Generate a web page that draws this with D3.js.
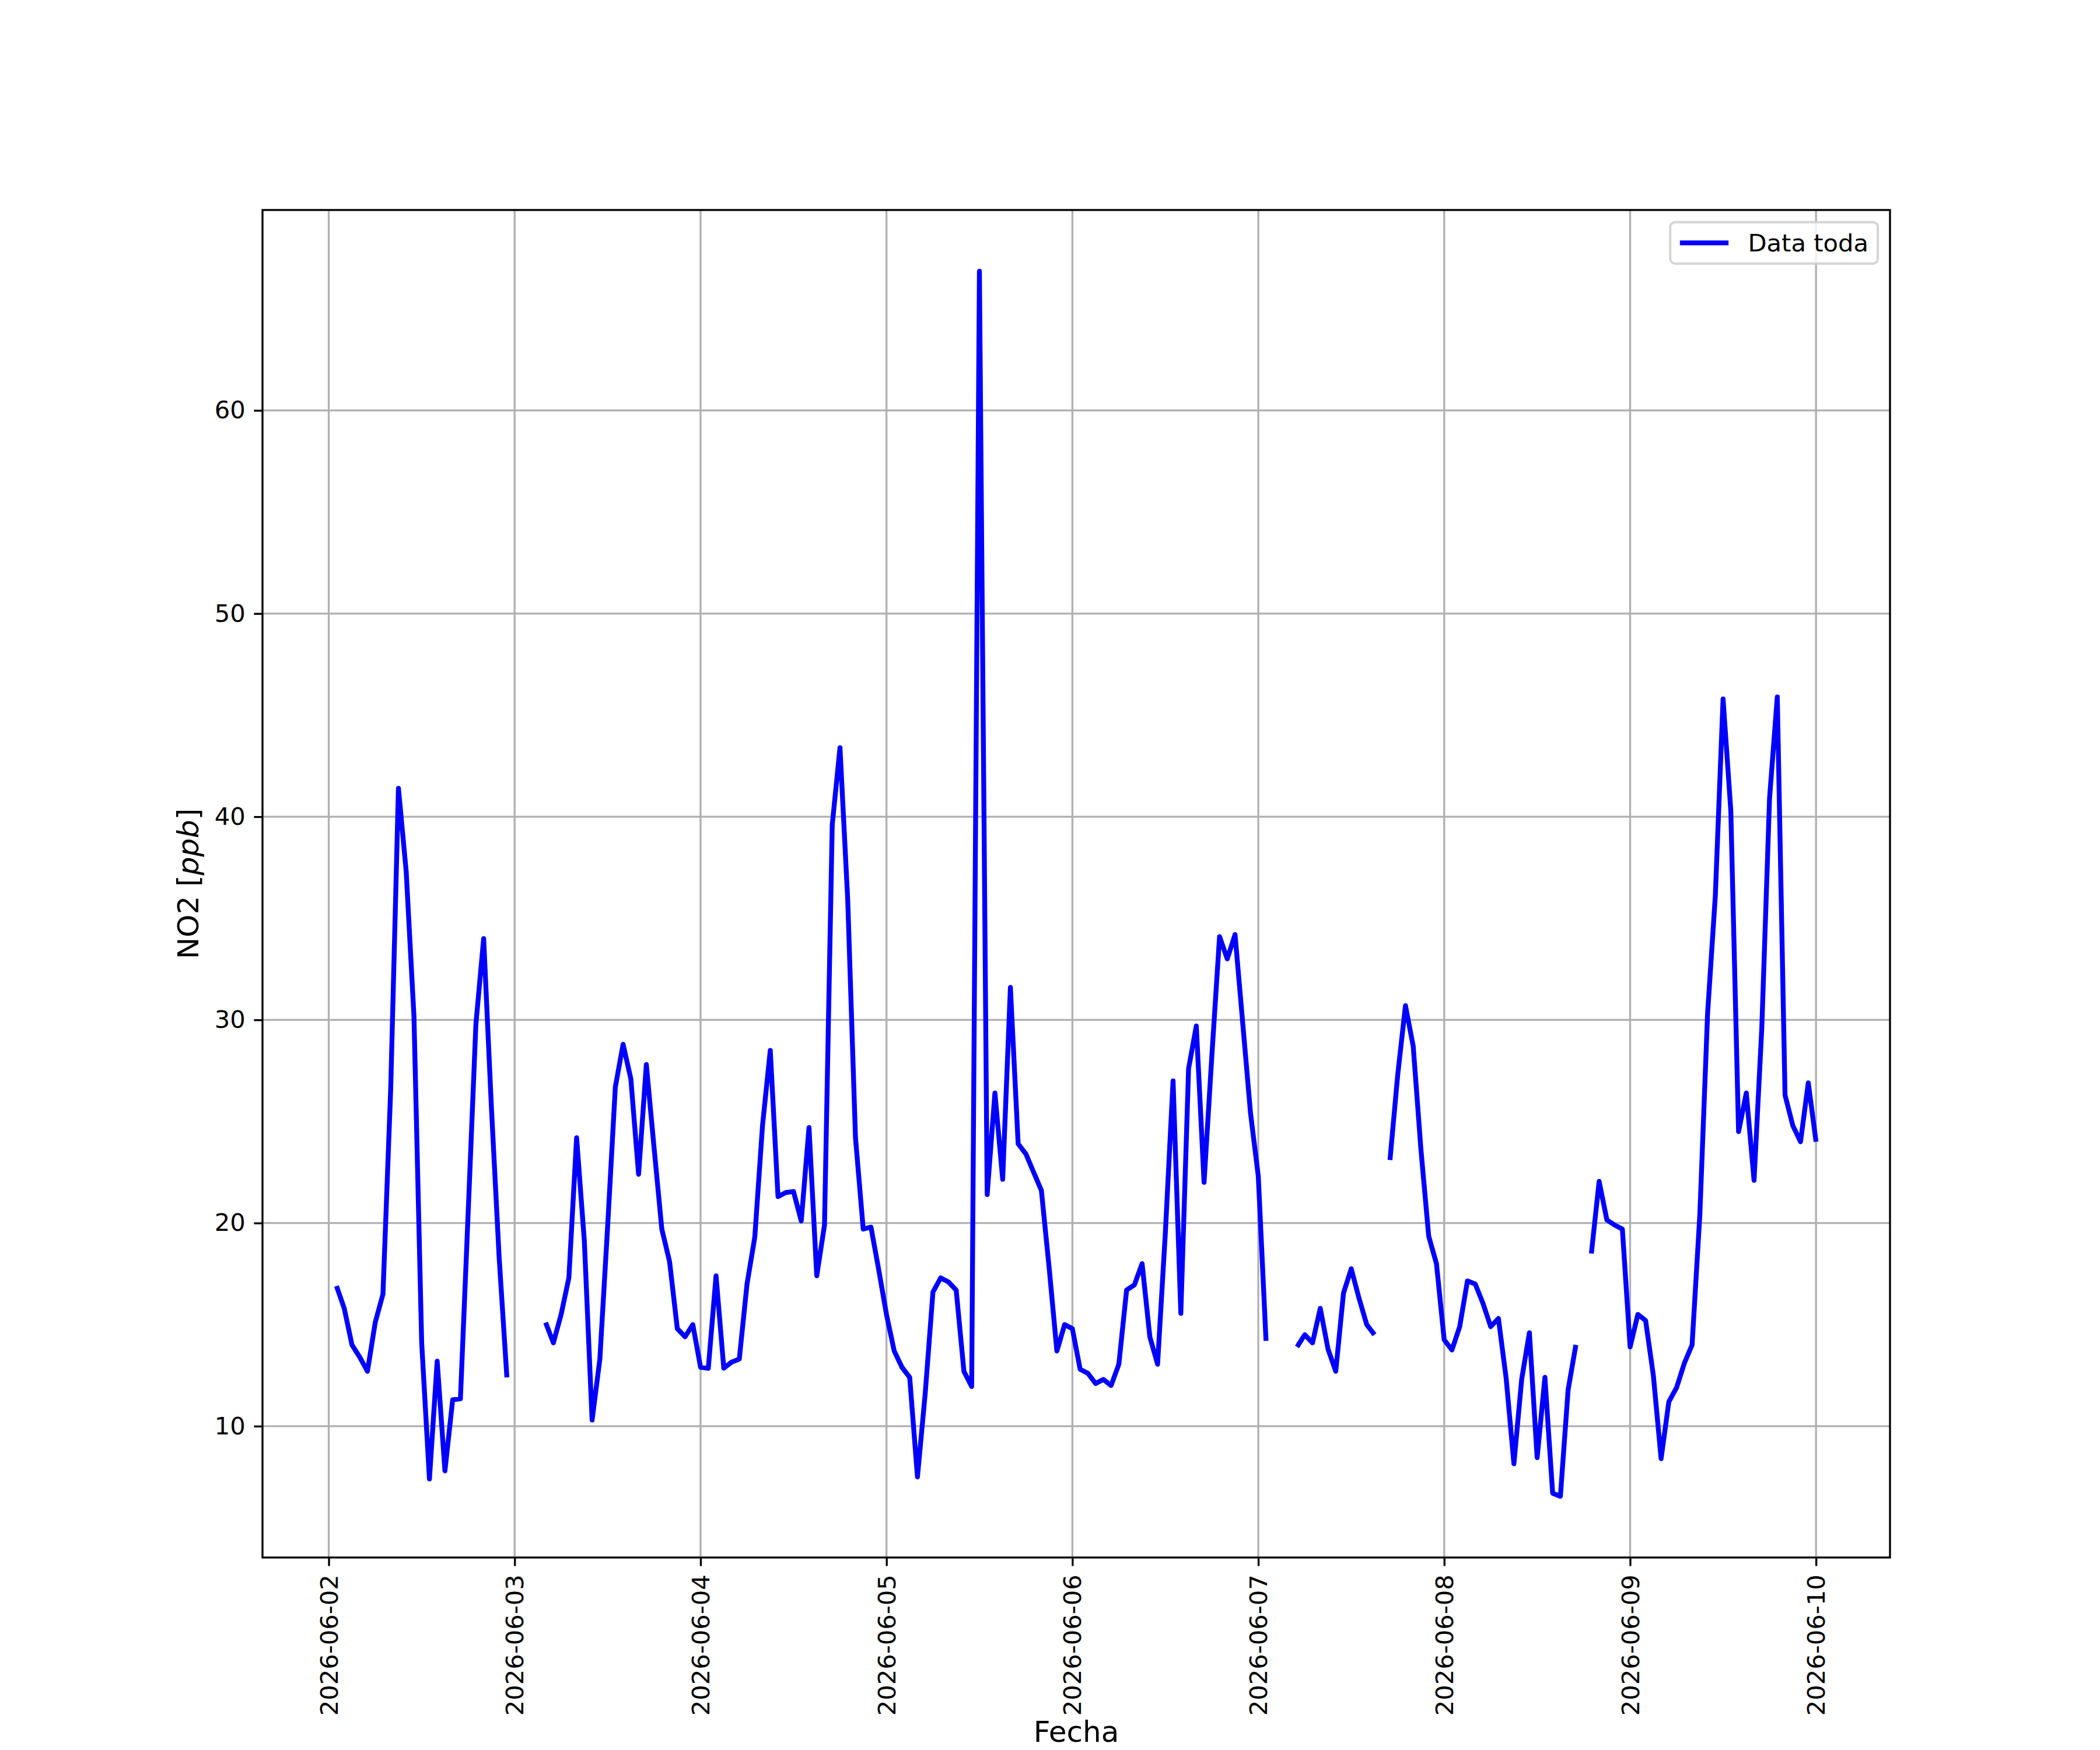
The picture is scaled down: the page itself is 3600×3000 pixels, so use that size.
<!DOCTYPE html>
<html>
<head>
<meta charset="utf-8">
<script src="https://cdn.jsdelivr.net/npm/d3@7"></script>
<style>
  body { margin: 0; background: white; }
  text { font-family: "DejaVu Sans", sans-serif; }
</style>
</head>
<body>
<div class="chart"></div>
<script>
// hourly NO2 values per day, index = hour of day (00..23), null = no data
const day02 = [null, 16.9, 15.8, 14.0, 13.4, 12.7, 15.1, 16.5, 26.6, 41.4, 37.3, 30.2, 14.1, 7.4, 13.2, 7.8, 11.3, 11.35, 20.5, 29.8, 34.0, 25.7, 18.3, 12.4];
const day03 = [null, null, null, null, 15.1, 14.1, 15.5, 17.3, 24.2, 19.1, 10.3, 13.3, 19.8, 26.7, 28.8, 27.1, 22.4, 27.8, 23.7, 19.7, 18.1, 14.8, 14.4, 15.0];
const day04 = [12.9, 12.85, 17.4, 12.85, 13.15, 13.3, 17.0, 19.3, 24.8, 28.5, 21.3, 21.5, 21.55, 20.1, 24.7, 17.4, 19.9, 39.6, 43.4, 35.9, 24.2, 19.7, 19.8, 17.7];
const day05 = [15.5, 13.7, 12.9, 12.4, 7.5, 11.6, 16.6, 17.3, 17.1, 16.7, 12.7, 11.95, 66.85, 21.4, 26.4, 22.15, 31.6, 23.9, 23.4, 22.5, 21.6, 17.8, 13.7, 15.0];
const day06 = [14.8, 12.8, 12.6, 12.1, 12.3, 12.0, 13.05, 16.7, 16.95, 18.0, 14.4, 13.05, 19.5, 27.0, 15.55, 27.6, 29.7, 22.0, 28.2, 34.1, 33.0, 34.2, 29.8, 25.4];
const day07 = [22.3, 14.2, null, null, null, 13.9, 14.5, 14.1, 15.8, 13.8, 12.7, 16.55, 17.75, 16.3, 15.0, 14.5, null, 23.1, 27.3, 30.7, 28.7, 23.6, 19.35, 18.0];
const day08 = [14.25, 13.75, 14.9, 17.15, 17.0, 16.05, 14.9, 15.3, 12.35, 8.15, 12.3, 14.6, 8.45, 12.4, 6.7, 6.55, 11.8, 14.0, null, 18.5, 22.05, 20.15, 19.9, 19.7];
const day09 = [13.9, 15.5, 15.2, 12.5, 8.4, 11.2, 11.9, 13.1, 14.0, 20.4, 30.3, 36.1, 45.8, 40.3, 24.5, 26.4, 22.1, 29.6, 40.9, 45.9, 26.3, 24.8, 24.0, 26.9];
const day10 = [24.0];

const dayNames = ['2026-06-02', '2026-06-03', '2026-06-04', '2026-06-05', '2026-06-06',
                  '2026-06-07', '2026-06-08', '2026-06-09', '2026-06-10'];
const dayValues = [day02, day03, day04, day05, day06, day07, day08, day09, day10];

const xTickLabels = dayNames;
const yTickValues = [10, 20, 30, 40, 50, 60];

const W = 3600, H = 3000;
const margin = {top: 360, left: 450, right: 360, bottom: 330};
const width = W - margin.left - margin.right;
const height = H - margin.top - margin.bottom;

const pt = 300 / 72;
const parseDay = d3.utcParse('%Y-%m-%d');

// flatten into hourly records
let data = [];
dayNames.forEach((name, i) => {
    let base = parseDay(name);
    dayValues[i].forEach((v, h) => {
        data.push({t: d3.utcHour.offset(base, h), v: v});
    });
});
const valid = data.filter(d => d.v != null);

let svg = d3.select('.chart')
    .append('svg')
    .attr('width', W)
    .attr('height', H)
    .style('display', 'block');

svg.append('rect').attr('width', W).attr('height', H).attr('fill', 'white');

let g = svg.append('g')
    .attr('transform', `translate(${margin.left},${margin.top})`);

// scales with matplotlib-like 5% margins
let tExt = d3.extent(valid, d => d.t);
let tPad = (tExt[1] - tExt[0]) * 0.05;
let xScale = d3.scaleUtc()
    .domain([new Date(+tExt[0] - tPad), new Date(+tExt[1] + tPad)])
    .range([0, width]);

let vExt = d3.extent(valid, d => d.v);
let vPad = (vExt[1] - vExt[0]) * 0.05;
let yScale = d3.scaleLinear()
    .domain([vExt[0] - vPad, vExt[1] + vPad])
    .range([height, 0]);

const tickLen = 3.5 * pt;
const tickPad = 3.5 * pt;
const tickFont = 10 * pt;
const lineW = 2 * pt;

// grid
g.append('g')
    .selectAll('line')
    .data(xTickLabels)
    .join('line')
    .attr('x1', d => xScale(parseDay(d)))
    .attr('x2', d => xScale(parseDay(d)))
    .attr('y1', 0)
    .attr('y2', height)
    .attr('stroke', '#b0b0b0')
    .attr('stroke-width', 0.8 * pt);

g.append('g')
    .selectAll('line')
    .data(yTickValues)
    .join('line')
    .attr('x1', 0)
    .attr('x2', width)
    .attr('y1', d => yScale(d))
    .attr('y2', d => yScale(d))
    .attr('stroke', '#b0b0b0')
    .attr('stroke-width', 0.8 * pt);

// data line
const line = d3.line()
    .defined(d => d.v != null)
    .x(d => xScale(d.t))
    .y(d => yScale(d.v));

g.append('path')
    .datum(data)
    .attr('fill', 'none')
    .attr('stroke', '#0000ff')
    .attr('stroke-width', lineW)
    .attr('stroke-linejoin', 'round')
    .attr('stroke-linecap', 'butt')
    .attr('d', line);

// axes
let xAxis = d3.axisBottom(xScale)
    .tickValues(xTickLabels.map(parseDay))
    .tickFormat(d3.utcFormat('%Y-%m-%d'))
    .tickSizeInner(tickLen)
    .tickSizeOuter(0)
    .tickPadding(tickPad);

g.append('g')
    .attr('transform', `translate(0,${height})`)
    .call(xAxis)
    .call(a => a.select('.domain').remove())
    .call(a => a.selectAll('.tick line').attr('stroke', 'black').attr('stroke-width', 0.8 * pt))
    .selectAll('.tick text')
    .attr('font-size', tickFont)
    .attr('font-family', 'DejaVu Sans')
    .attr('fill', 'black')
    .attr('text-anchor', 'end')
    .attr('y', 0)
    .attr('dy', '0.35em')
    .attr('transform', `translate(0,${tickLen + tickPad}) rotate(-90)`);

let yAxis = d3.axisLeft(yScale)
    .tickValues(yTickValues)
    .tickSizeInner(tickLen)
    .tickSizeOuter(0)
    .tickPadding(tickPad);

g.append('g')
    .call(yAxis)
    .call(a => a.select('.domain').remove())
    .call(a => a.selectAll('.tick line').attr('stroke', 'black').attr('stroke-width', 0.8 * pt))
    .selectAll('.tick text')
    .attr('font-size', tickFont)
    .attr('font-family', 'DejaVu Sans')
    .attr('fill', 'black');

// frame
g.append('rect')
    .attr('width', width)
    .attr('height', height)
    .attr('fill', 'none')
    .attr('stroke', 'black')
    .attr('stroke-width', 0.8 * pt);

// axis labels
svg.append('text')
    .attr('x', margin.left + width / 2)
    .attr('y', 2986)
    .attr('text-anchor', 'middle')
    .attr('font-size', 12 * pt)
    .text('Fecha');

let yl = svg.append('text')
    .attr('transform', `translate(340,${margin.top + height / 2}) rotate(-90)`)
    .attr('text-anchor', 'middle')
    .attr('font-size', 12 * pt);
yl.append('tspan').text('NO2 [');
yl.append('tspan').attr('font-style', 'italic').text('ppb');
yl.append('tspan').text(']');

// legend
const lgFont = 10 * pt;
const lgW = 356, lgH = 71;
let lg = g.append('g')
    .attr('transform', `translate(${width - 0.5 * lgFont - lgW},${0.5 * lgFont})`);

lg.append('rect')
    .attr('width', lgW)
    .attr('height', lgH)
    .attr('rx', 0.2 * lgFont)
    .attr('fill', 'white')
    .attr('fill-opacity', 0.8)
    .attr('stroke', '#cccccc')
    .attr('stroke-opacity', 0.8)
    .attr('stroke-width', 1 * pt);

lg.append('line')
    .attr('x1', 0.4 * lgFont)
    .attr('x2', 2.4 * lgFont)
    .attr('y1', lgH / 2)
    .attr('y2', lgH / 2)
    .attr('stroke', '#0000ff')
    .attr('stroke-width', lineW);

lg.append('text')
    .attr('x', 3.2 * lgFont)
    .attr('y', lgH / 2)
    .attr('dy', '0.36em')
    .attr('font-size', lgFont)
    .text('Data toda');
</script>
</body>
</html>
